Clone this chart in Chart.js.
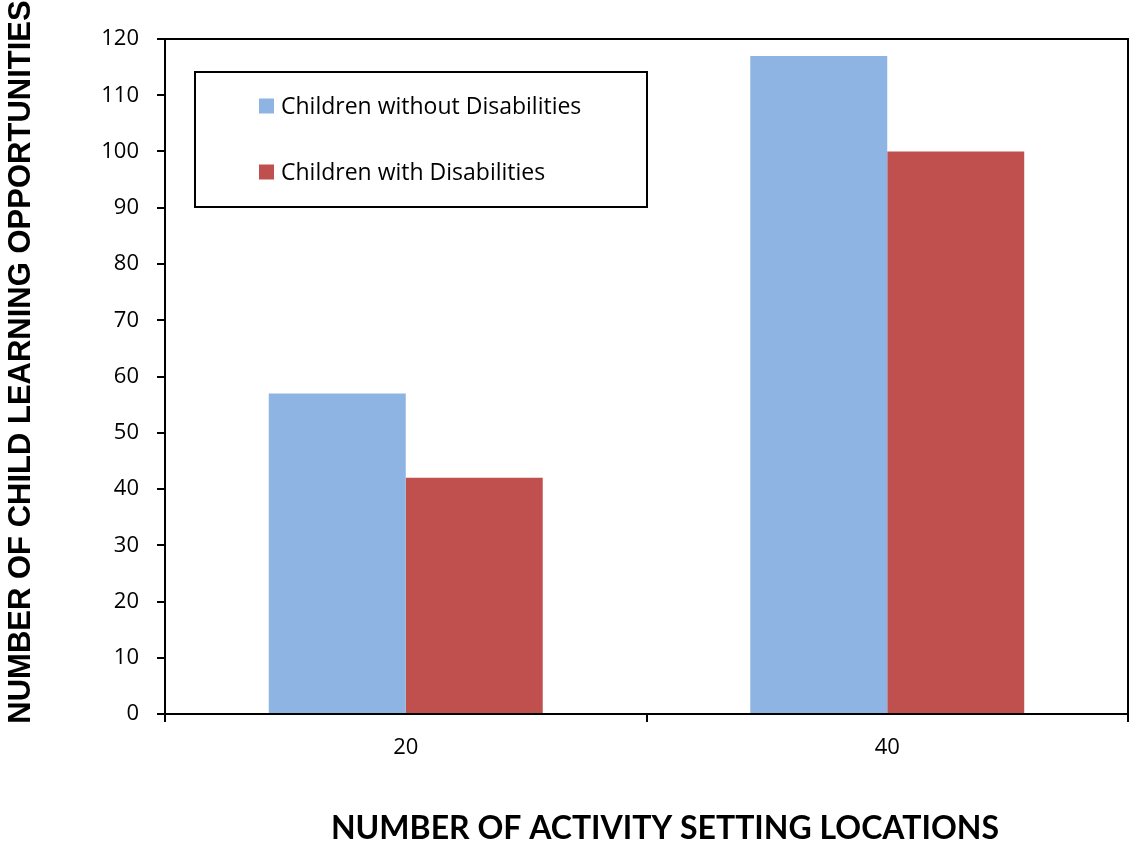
<!DOCTYPE html>
<html>
<head>
<meta charset="utf-8">
<script src="https://cdn.jsdelivr.net/npm/chart.js@4"></script>
<style>
  html, body { margin: 0; padding: 0; background: #fff; }
  #wrap { width: 1129px; height: 845px; }
</style>
</head>
<body>
<div id="wrap"><canvas id="c" width="1129" height="845"></canvas></div>
<script>
const categories = ['20', '40'];
const withoutDisabilities = [57, 117];
const withDisabilities = [42, 100];
const seriesLabels = ['Children without Disabilities', 'Children with Disabilities'];
const seriesColors = ['#8EB4E3', '#C0504D'];
const yTitle = 'NUMBER OF CHILD LEARNING OPPORTUNITIES';
const xTitle = 'NUMBER OF ACTIVITY SETTING LOCATIONS';

const bodyFont = '"Open Sans", Lato, sans-serif';

// Frame on top/right of the plot area, a boxed legend inside it, and the axis titles
const framePlugin = {
  id: 'frameAndLegend',
  afterDatasetsDraw(chart) {
    const { ctx, chartArea: a } = chart;
    ctx.save();
    ctx.strokeStyle = '#000';
    ctx.lineWidth = 2;
    ctx.beginPath();
    ctx.moveTo(a.left, a.top);
    ctx.lineTo(a.right, a.top);
    ctx.lineTo(a.right, a.bottom);
    ctx.stroke();

    // legend box
    const bx = a.left + 30, by = a.top + 33, bw = 452, bh = 135;
    ctx.fillStyle = '#fff';
    ctx.fillRect(bx, by, bw, bh);
    ctx.lineWidth = 2;
    ctx.strokeRect(bx, by, bw, bh);
    ctx.font = '23px ' + bodyFont;
    ctx.textBaseline = 'middle';
    ctx.textAlign = 'left';
    chart.data.datasets.forEach((ds, i) => {
      const cy = by + 34 + i * 66;
      ctx.fillStyle = ds.backgroundColor;
      ctx.fillRect(bx + 64, cy - 7.5, 15, 15);
      ctx.fillStyle = '#000';
      ctx.fillText(ds.label, bx + 86, cy + 1);
    });

    // axis titles
    ctx.fillStyle = '#000';
    ctx.textAlign = 'center';
    ctx.textBaseline = 'middle';
    ctx.font = 'bold 32px Lato, "Open Sans", sans-serif';
    ctx.fillText(xTitle, 665, 829);
    ctx.translate(21, 362);
    ctx.rotate(-Math.PI / 2);
    ctx.font = 'bold 31px "Liberation Sans", Arial, sans-serif';
    ctx.fillText(yTitle, 0, 0);
    ctx.restore();
  }
};

new Chart(document.getElementById('c'), {
  type: 'bar',
  data: {
    labels: categories,
    datasets: [
      { label: seriesLabels[0], data: withoutDisabilities, backgroundColor: seriesColors[0] },
      { label: seriesLabels[1], data: withDisabilities, backgroundColor: seriesColors[1] }
    ]
  },
  options: {
    responsive: false,
    animation: false,
    devicePixelRatio: 1,
    layout: { padding: { top: 39, right: 1, left: 0, bottom: 0 } },
    datasets: { bar: { categoryPercentage: 0.569, barPercentage: 1.0 } },
    plugins: { legend: { display: false }, tooltip: { enabled: false } },
    scales: {
      x: {
        grid: { display: true, drawOnChartArea: false, drawTicks: true, tickLength: 8, color: '#000', lineWidth: 2, offset: true },
        border: { display: true, color: '#000', width: 2 },
        ticks: { color: '#000', font: { family: bodyFont, size: 22 }, padding: 13 },
        afterFit(scale) { scale.height = 131; }
      },
      y: {
        min: 0, max: 120,
        grid: { display: true, drawOnChartArea: false, drawTicks: true, tickLength: 8, color: '#000', lineWidth: 2 },
        border: { display: true, color: '#000', width: 2 },
        ticks: { stepSize: 10, color: '#000', font: { family: bodyFont, size: 22 }, padding: 18 },
        afterFit(scale) { scale.width = 165; }
      }
    }
  },
  plugins: [framePlugin]
});
</script>
</body>
</html>
